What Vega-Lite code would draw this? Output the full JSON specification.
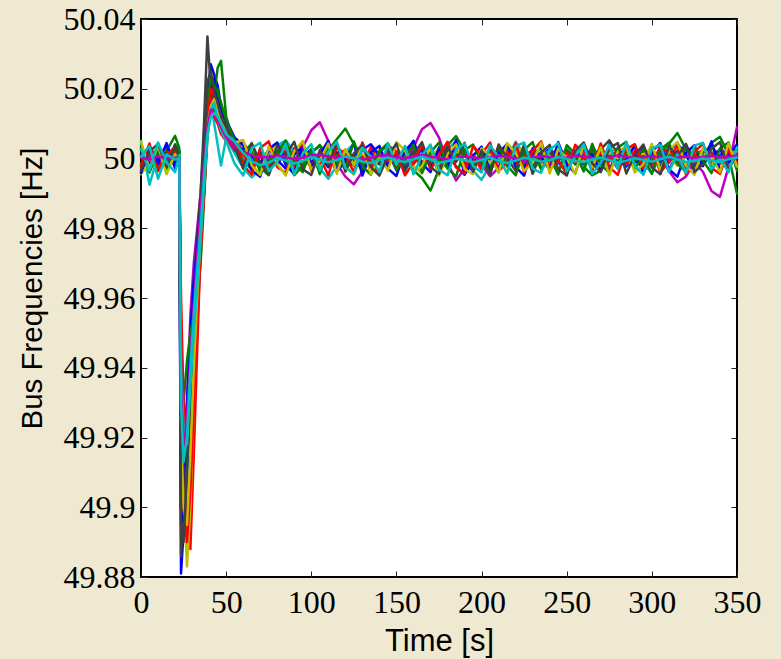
{
"$schema": "https://vega.github.io/schema/vega-lite/v6.json",
"width": 596, "height": 558,
"autosize": {"type": "none"},
"padding": {"left": 141, "top": 19, "right": 44, "bottom": 82},
"background": "#efe9d1",
"config": {
  "view": {"fill": "white", "stroke": "black", "strokeWidth": 2},
  "axis": {"grid": false, "domain": false, "tickColor": "#222", "tickWidth": 1, "tickSize": -6,
    "labelFont": "Liberation Serif", "labelFontSize": 32, "labelColor": "black",
    "titleFont": "Liberation Sans", "titleFontWeight": "normal", "titleColor": "black",
    "labelFlush": false, "labelOverlap": false, "labelBound": false}
},
"data": {"values": [
{"s":"a","t":0,"f":50.0012},{"s":"a","t":5,"f":49.998},{"s":"a","t":10,"f":50.0025},{"s":"a","t":15,"f":49.9992},{"s":"a","t":20,"f":50.003},
{"s":"a","t":22.5,"f":50.001},{"s":"a","t":23.5,"f":49.881},{"s":"a","t":25,"f":49.893},{"s":"a","t":27,"f":49.91},{"s":"a","t":29,"f":49.93},{"s":"a","t":31,"f":49.948},{"s":"a","t":33,"f":49.965},{"s":"a","t":35,"f":49.985},{"s":"a","t":37,"f":50.002},{"s":"a","t":39,"f":50.018},{"s":"a","t":41,"f":50.027},{"s":"a","t":43,"f":50.024},{"s":"a","t":45,"f":50.021},{"s":"a","t":47,"f":50.015},{"s":"a","t":50,"f":50.01},
{"s":"a","t":55,"f":50.0052},{"s":"a","t":60,"f":50.0018},{"s":"a","t":65,"f":49.9994},{"s":"a","t":70,"f":49.9976},{"s":"a","t":75,"f":50.0011},{"s":"a","t":80,"f":49.9983},{"s":"a","t":85,"f":50.0023},{"s":"a","t":90,"f":49.9969},{"s":"a","t":95,"f":50.0008},{"s":"a","t":100,"f":50.0026},{"s":"a","t":105,"f":49.9986},{"s":"a","t":110,"f":50.0033},{"s":"a","t":115,"f":49.9972},{"s":"a","t":120,"f":50.0004},{"s":"a","t":125,"f":50.0042},{"s":"a","t":130,"f":49.9981},{"s":"a","t":135,"f":50.0015},{"s":"a","t":140,"f":49.9993},{"s":"a","t":145,"f":50.0021},{"s":"a","t":150,"f":49.9966},{"s":"a","t":155,"f":50.0009},{"s":"a","t":160,"f":50.0051},{"s":"a","t":165,"f":49.9978},{"s":"a","t":170,"f":50.0013},{"s":"a","t":175,"f":49.9959},{"s":"a","t":180,"f":50.0006},{"s":"a","t":185,"f":50.0024},{"s":"a","t":190,"f":49.9989},{"s":"a","t":195,"f":49.9964},{"s":"a","t":200,"f":50.0017},{"s":"a","t":205,"f":50.0003},{"s":"a","t":210,"f":49.9975},{"s":"a","t":215,"f":50.0031},{"s":"a","t":220,"f":49.9991},{"s":"a","t":225,"f":50.0016},{"s":"a","t":230,"f":49.998},{"s":"a","t":235,"f":50.0007},{"s":"a","t":240,"f":50.0028},{"s":"a","t":245,"f":49.9987},{"s":"a","t":250,"f":49.997},{"s":"a","t":255,"f":50.0012},{"s":"a","t":260,"f":50.0005},{"s":"a","t":265,"f":49.9974},{"s":"a","t":270,"f":50.0022},{"s":"a","t":275,"f":49.9996},{"s":"a","t":280,"f":50.0019},{"s":"a","t":285,"f":49.9977},{"s":"a","t":290,"f":50.0008},{"s":"a","t":295,"f":50.0035},{"s":"a","t":300,"f":49.9984},{"s":"a","t":305,"f":50.0002},{"s":"a","t":310,"f":49.9967},{"s":"a","t":315,"f":50.0014},{"s":"a","t":320,"f":50.004},{"s":"a","t":325,"f":49.9992},{"s":"a","t":330,"f":50.0021},{"s":"a","t":335,"f":49.9985},{"s":"a","t":340,"f":50.0009},{"s":"a","t":345,"f":50.0026},{"s":"a","t":350,"f":49.9997},
{"s":"b","t":0,"f":49.997},{"s":"b","t":5,"f":50.0018},{"s":"b","t":10,"f":49.9988},{"s":"b","t":15,"f":50.0022},{"s":"b","t":20,"f":50.0065},
{"s":"b","t":22.5,"f":50.003},{"s":"b","t":23.5,"f":49.93},{"s":"b","t":25,"f":49.905},{"s":"b","t":27,"f":49.915},{"s":"b","t":29,"f":49.935},{"s":"b","t":31,"f":49.952},{"s":"b","t":33,"f":49.968},{"s":"b","t":35,"f":49.982},{"s":"b","t":37,"f":49.998},{"s":"b","t":39,"f":50.012},{"s":"b","t":41,"f":50.022},{"s":"b","t":43,"f":50.018},{"s":"b","t":45,"f":50.026},{"s":"b","t":47,"f":50.028},{"s":"b","t":50,"f":50.012},
{"s":"b","t":55,"f":50.0038},{"s":"b","t":60,"f":49.9995},{"s":"b","t":65,"f":49.9968},{"s":"b","t":70,"f":50.0014},{"s":"b","t":75,"f":49.9974},{"s":"b","t":80,"f":50.002},{"s":"b","t":85,"f":49.9988},{"s":"b","t":90,"f":50.003},{"s":"b","t":95,"f":49.9973},{"s":"b","t":100,"f":50.0006},{"s":"b","t":105,"f":49.9982},{"s":"b","t":110,"f":50.0024},{"s":"b","t":115,"f":50.0055},{"s":"b","t":120,"f":50.0086},{"s":"b","t":125,"f":50.0041},{"s":"b","t":130,"f":49.9977},{"s":"b","t":135,"f":50.001},{"s":"b","t":140,"f":49.9985},{"s":"b","t":145,"f":50.0027},{"s":"b","t":150,"f":49.9991},{"s":"b","t":155,"f":50.0018},{"s":"b","t":160,"f":49.9966},{"s":"b","t":165,"f":49.9944},{"s":"b","t":170,"f":49.9908},{"s":"b","t":175,"f":49.997},{"s":"b","t":180,"f":50.0038},{"s":"b","t":185,"f":50.0064},{"s":"b","t":190,"f":50.0022},{"s":"b","t":195,"f":49.9986},{"s":"b","t":200,"f":50.0008},{"s":"b","t":205,"f":49.9978},{"s":"b","t":210,"f":50.0017},{"s":"b","t":215,"f":49.9994},{"s":"b","t":220,"f":50.0029},{"s":"b","t":225,"f":49.9983},{"s":"b","t":230,"f":50.0005},{"s":"b","t":235,"f":49.9972},{"s":"b","t":240,"f":50.0013},{"s":"b","t":245,"f":50.0025},{"s":"b","t":250,"f":49.999},{"s":"b","t":255,"f":50.0007},{"s":"b","t":260,"f":49.9976},{"s":"b","t":265,"f":49.9952},{"s":"b","t":270,"f":49.9965},{"s":"b","t":275,"f":50.0012},{"s":"b","t":280,"f":49.9992},{"s":"b","t":285,"f":50.002},{"s":"b","t":290,"f":49.9987},{"s":"b","t":295,"f":50.0009},{"s":"b","t":300,"f":49.9978},{"s":"b","t":305,"f":50.0015},{"s":"b","t":310,"f":50.0042},{"s":"b","t":315,"f":50.0073},{"s":"b","t":320,"f":50.0026},{"s":"b","t":325,"f":49.9982},{"s":"b","t":330,"f":50.0004},{"s":"b","t":335,"f":50.0045},{"s":"b","t":340,"f":50.0062},{"s":"b","t":345,"f":50.0011},{"s":"b","t":350,"f":49.9899},
{"s":"c","t":0,"f":50.0024},{"s":"c","t":5,"f":50.0006},{"s":"c","t":10,"f":49.9978},{"s":"c","t":15,"f":50.0019},{"s":"c","t":20,"f":49.9995},
{"s":"c","t":22.5,"f":49.999},{"s":"c","t":23.5,"f":49.95},{"s":"c","t":25,"f":49.91},{"s":"c","t":27,"f":49.893},{"s":"c","t":29,"f":49.888},{"s":"c","t":31,"f":49.915},{"s":"c","t":33,"f":49.945},{"s":"c","t":35,"f":49.975},{"s":"c","t":37,"f":50.0},{"s":"c","t":39,"f":50.016},{"s":"c","t":41,"f":50.022},{"s":"c","t":43,"f":50.015},{"s":"c","t":45,"f":50.018},{"s":"c","t":47,"f":50.01},{"s":"c","t":50,"f":50.008},
{"s":"c","t":55,"f":50.0045},{"s":"c","t":60,"f":50.0026},{"s":"c","t":65,"f":49.998},{"s":"c","t":70,"f":50.0008},{"s":"c","t":75,"f":49.9964},{"s":"c","t":80,"f":50.0019},{"s":"c","t":85,"f":49.999},{"s":"c","t":90,"f":49.9976},{"s":"c","t":95,"f":50.0028},{"s":"c","t":100,"f":50.0003},{"s":"c","t":105,"f":49.9984},{"s":"c","t":110,"f":50.0012},{"s":"c","t":115,"f":49.9961},{"s":"c","t":120,"f":50.0023},{"s":"c","t":125,"f":50.0005},{"s":"c","t":130,"f":49.9982},{"s":"c","t":135,"f":50.0032},{"s":"c","t":140,"f":49.9994},{"s":"c","t":145,"f":50.0014},{"s":"c","t":150,"f":49.9975},{"s":"c","t":155,"f":50.0009},{"s":"c","t":160,"f":50.0027},{"s":"c","t":165,"f":49.9988},{"s":"c","t":170,"f":50.0015},{"s":"c","t":175,"f":49.9972},{"s":"c","t":180,"f":50.0004},{"s":"c","t":185,"f":50.0036},{"s":"c","t":190,"f":49.9981},{"s":"c","t":195,"f":50.0008},{"s":"c","t":200,"f":49.9967},{"s":"c","t":205,"f":50.002},{"s":"c","t":210,"f":50.0011},{"s":"c","t":215,"f":49.9986},{"s":"c","t":220,"f":50.0034},{"s":"c","t":225,"f":49.9993},{"s":"c","t":230,"f":50.0018},{"s":"c","t":235,"f":49.9979},{"s":"c","t":240,"f":50.0006},{"s":"c","t":245,"f":50.0029},{"s":"c","t":250,"f":49.9985},{"s":"c","t":255,"f":50.0001},{"s":"c","t":260,"f":50.0023},{"s":"c","t":265,"f":49.9973},{"s":"c","t":270,"f":50.001},{"s":"c","t":275,"f":49.9991},{"s":"c","t":280,"f":50.0031},{"s":"c","t":285,"f":49.9983},{"s":"c","t":290,"f":50.0007},{"s":"c","t":295,"f":50.0024},{"s":"c","t":300,"f":49.998},{"s":"c","t":305,"f":50.0037},{"s":"c","t":310,"f":49.9996},{"s":"c","t":315,"f":50.0016},{"s":"c","t":320,"f":49.9971},{"s":"c","t":325,"f":50.0008},{"s":"c","t":330,"f":50.0025},{"s":"c","t":335,"f":49.9987},{"s":"c","t":340,"f":50.0002},{"s":"c","t":345,"f":50.003},{"s":"c","t":350,"f":49.9989},
{"s":"d","t":0,"f":50.005},{"s":"d","t":5,"f":49.9925},{"s":"d","t":10,"f":50.0009},{"s":"d","t":15,"f":49.9974},{"s":"d","t":20,"f":50.0014},
{"s":"d","t":22.5,"f":50.002},{"s":"d","t":23.5,"f":49.925},{"s":"d","t":25,"f":49.911},{"s":"d","t":27,"f":49.925},{"s":"d","t":29,"f":49.945},{"s":"d","t":31,"f":49.958},{"s":"d","t":33,"f":49.968},{"s":"d","t":35,"f":49.975},{"s":"d","t":37,"f":49.99},{"s":"d","t":39,"f":50.008},{"s":"d","t":41,"f":50.016},{"s":"d","t":43,"f":50.01},{"s":"d","t":45,"f":50.004},{"s":"d","t":47,"f":49.998},{"s":"d","t":50,"f":50.006},
{"s":"d","t":55,"f":50.0015},{"s":"d","t":60,"f":49.9973},{"s":"d","t":65,"f":49.9946},{"s":"d","t":70,"f":49.9969},{"s":"d","t":75,"f":49.9992},{"s":"d","t":80,"f":50.0037},{"s":"d","t":85,"f":50.0052},{"s":"d","t":90,"f":50.0019},{"s":"d","t":95,"f":49.9984},{"s":"d","t":100,"f":50.0007},{"s":"d","t":105,"f":49.9971},{"s":"d","t":110,"f":49.9942},{"s":"d","t":115,"f":49.9979},{"s":"d","t":120,"f":50.0018},{"s":"d","t":125,"f":50.0043},{"s":"d","t":130,"f":50.0006},{"s":"d","t":135,"f":49.9981},{"s":"d","t":140,"f":50.0025},{"s":"d","t":145,"f":49.9996},{"s":"d","t":150,"f":50.0016},{"s":"d","t":155,"f":49.9972},{"s":"d","t":160,"f":50.0009},{"s":"d","t":165,"f":50.0021},{"s":"d","t":170,"f":49.9987},{"s":"d","t":175,"f":50.0005},{"s":"d","t":180,"f":50.0028},{"s":"d","t":185,"f":50.0049},{"s":"d","t":190,"f":50.0012},{"s":"d","t":195,"f":49.9965},{"s":"d","t":200,"f":49.9939},{"s":"d","t":205,"f":49.9982},{"s":"d","t":210,"f":50.0014},{"s":"d","t":215,"f":49.9995},{"s":"d","t":220,"f":50.0048},{"s":"d","t":225,"f":50.001},{"s":"d","t":230,"f":49.9974},{"s":"d","t":235,"f":50.0008},{"s":"d","t":240,"f":50.0022},{"s":"d","t":245,"f":49.9989},{"s":"d","t":250,"f":50.0033},{"s":"d","t":255,"f":50.0004},{"s":"d","t":260,"f":49.998},{"s":"d","t":265,"f":50.0017},{"s":"d","t":270,"f":49.9997},{"s":"d","t":275,"f":50.0026},{"s":"d","t":280,"f":49.9982},{"s":"d","t":285,"f":50.0006},{"s":"d","t":290,"f":50.0039},{"s":"d","t":295,"f":49.9986},{"s":"d","t":300,"f":49.9958},{"s":"d","t":305,"f":50.0009},{"s":"d","t":310,"f":50.0028},{"s":"d","t":315,"f":49.9993},{"s":"d","t":320,"f":50.0015},{"s":"d","t":325,"f":49.9976},{"s":"d","t":330,"f":50.0003},{"s":"d","t":335,"f":50.002},{"s":"d","t":340,"f":49.9984},{"s":"d","t":345,"f":50.0008},{"s":"d","t":350,"f":50.0019},
{"s":"e","t":0,"f":49.9962},{"s":"e","t":5,"f":50.0005},{"s":"e","t":10,"f":50.0028},{"s":"e","t":15,"f":49.9984},{"s":"e","t":20,"f":50.0007},
{"s":"e","t":22.5,"f":50.0},{"s":"e","t":23.5,"f":49.94},{"s":"e","t":25,"f":49.918},{"s":"e","t":27,"f":49.93},{"s":"e","t":29,"f":49.955},{"s":"e","t":31,"f":49.97},{"s":"e","t":33,"f":49.98},{"s":"e","t":35,"f":49.99},{"s":"e","t":37,"f":50.005},{"s":"e","t":39,"f":50.015},{"s":"e","t":41,"f":50.018},{"s":"e","t":43,"f":50.014},{"s":"e","t":45,"f":50.012},{"s":"e","t":47,"f":50.009},{"s":"e","t":50,"f":50.006},
{"s":"e","t":55,"f":50.0022},{"s":"e","t":60,"f":50.0046},{"s":"e","t":65,"f":50.001},{"s":"e","t":70,"f":49.9972},{"s":"e","t":75,"f":50.0004},{"s":"e","t":80,"f":49.9981},{"s":"e","t":85,"f":50.0025},{"s":"e","t":90,"f":49.9994},{"s":"e","t":95,"f":50.0032},{"s":"e","t":100,"f":50.0081},{"s":"e","t":105,"f":50.0104},{"s":"e","t":110,"f":50.005},{"s":"e","t":115,"f":49.9985},{"s":"e","t":120,"f":49.9948},{"s":"e","t":125,"f":49.9926},{"s":"e","t":130,"f":49.9962},{"s":"e","t":135,"f":50.0009},{"s":"e","t":140,"f":49.9986},{"s":"e","t":145,"f":50.002},{"s":"e","t":150,"f":50.0002},{"s":"e","t":155,"f":49.9974},{"s":"e","t":160,"f":50.0031},{"s":"e","t":165,"f":50.0084},{"s":"e","t":170,"f":50.0102},{"s":"e","t":175,"f":50.006},{"s":"e","t":180,"f":49.9988},{"s":"e","t":185,"f":49.9937},{"s":"e","t":190,"f":49.9971},{"s":"e","t":195,"f":50.0011},{"s":"e","t":200,"f":49.9982},{"s":"e","t":205,"f":49.9949},{"s":"e","t":210,"f":49.9973},{"s":"e","t":215,"f":50.0008},{"s":"e","t":220,"f":50.0024},{"s":"e","t":225,"f":49.9991},{"s":"e","t":230,"f":50.0016},{"s":"e","t":235,"f":49.9983},{"s":"e","t":240,"f":50.0005},{"s":"e","t":245,"f":50.003},{"s":"e","t":250,"f":49.9979},{"s":"e","t":255,"f":50.0013},{"s":"e","t":260,"f":49.9996},{"s":"e","t":265,"f":50.0027},{"s":"e","t":270,"f":49.9985},{"s":"e","t":275,"f":50.0006},{"s":"e","t":280,"f":49.9971},{"s":"e","t":285,"f":50.0018},{"s":"e","t":290,"f":50.0001},{"s":"e","t":295,"f":50.0023},{"s":"e","t":300,"f":49.999},{"s":"e","t":305,"f":50.0008},{"s":"e","t":310,"f":49.9964},{"s":"e","t":315,"f":49.9932},{"s":"e","t":320,"f":49.9948},{"s":"e","t":325,"f":49.9989},{"s":"e","t":330,"f":49.9962},{"s":"e","t":335,"f":49.9907},{"s":"e","t":340,"f":49.989},{"s":"e","t":345,"f":49.9975},{"s":"e","t":350,"f":50.009},
{"s":"f","t":0,"f":49.9955},{"s":"f","t":5,"f":49.999},{"s":"f","t":10,"f":50.0016},{"s":"f","t":15,"f":49.9968},{"s":"f","t":20,"f":50.0021},
{"s":"f","t":22.5,"f":49.998},{"s":"f","t":23.5,"f":49.955},{"s":"f","t":25,"f":49.905},{"s":"f","t":27,"f":49.883},{"s":"f","t":29,"f":49.9},{"s":"f","t":31,"f":49.93},{"s":"f","t":33,"f":49.955},{"s":"f","t":35,"f":49.975},{"s":"f","t":37,"f":49.995},{"s":"f","t":39,"f":50.013},{"s":"f","t":41,"f":50.016},{"s":"f","t":43,"f":50.012},{"s":"f","t":45,"f":50.014},{"s":"f","t":47,"f":50.009},{"s":"f","t":50,"f":50.007},
{"s":"f","t":55,"f":50.0061},{"s":"f","t":60,"f":50.0035},{"s":"f","t":65,"f":49.9982},{"s":"f","t":70,"f":49.9956},{"s":"f","t":75,"f":50.0016},{"s":"f","t":80,"f":50.0042},{"s":"f","t":85,"f":50.002},{"s":"f","t":90,"f":49.9961},{"s":"f","t":95,"f":49.9988},{"s":"f","t":100,"f":50.0015},{"s":"f","t":105,"f":49.9975},{"s":"f","t":110,"f":50.0009},{"s":"f","t":115,"f":50.0038},{"s":"f","t":120,"f":49.998},{"s":"f","t":125,"f":49.9954},{"s":"f","t":130,"f":50.0011},{"s":"f","t":135,"f":49.9993},{"s":"f","t":140,"f":50.0024},{"s":"f","t":145,"f":49.9982},{"s":"f","t":150,"f":50.0006},{"s":"f","t":155,"f":50.003},{"s":"f","t":160,"f":49.9978},{"s":"f","t":165,"f":49.9957},{"s":"f","t":170,"f":50.001},{"s":"f","t":175,"f":50.0026},{"s":"f","t":180,"f":49.9992},{"s":"f","t":185,"f":50.0019},{"s":"f","t":190,"f":49.9964},{"s":"f","t":195,"f":50.0007},{"s":"f","t":200,"f":50.0028},{"s":"f","t":205,"f":49.9987},{"s":"f","t":210,"f":50.0004},{"s":"f","t":215,"f":49.9974},{"s":"f","t":220,"f":50.0018},{"s":"f","t":225,"f":50.0032},{"s":"f","t":230,"f":49.9995},{"s":"f","t":235,"f":49.998},{"s":"f","t":240,"f":50.0012},{"s":"f","t":245,"f":49.9966},{"s":"f","t":250,"f":50.0009},{"s":"f","t":255,"f":50.0023},{"s":"f","t":260,"f":49.9989},{"s":"f","t":265,"f":50.0005},{"s":"f","t":270,"f":49.9972},{"s":"f","t":275,"f":50.0014},{"s":"f","t":280,"f":50.0029},{"s":"f","t":285,"f":49.9994},{"s":"f","t":290,"f":49.9977},{"s":"f","t":295,"f":50.001},{"s":"f","t":300,"f":50.0031},{"s":"f","t":305,"f":49.9986},{"s":"f","t":310,"f":50.0006},{"s":"f","t":315,"f":49.9979},{"s":"f","t":320,"f":50.0017},{"s":"f","t":325,"f":49.9997},{"s":"f","t":330,"f":50.0022},{"s":"f","t":335,"f":49.9981},{"s":"f","t":340,"f":50.0007},{"s":"f","t":345,"f":49.9974},{"s":"f","t":350,"f":50.0013},
{"s":"g","t":0,"f":50.0008},{"s":"g","t":5,"f":50.0034},{"s":"g","t":10,"f":49.9995},{"s":"g","t":15,"f":50.0017},{"s":"g","t":20,"f":49.9986},
{"s":"g","t":22.5,"f":50.001},{"s":"g","t":23.5,"f":49.886},{"s":"g","t":25,"f":49.9},{"s":"g","t":27,"f":49.925},{"s":"g","t":29,"f":49.95},{"s":"g","t":31,"f":49.965},{"s":"g","t":33,"f":49.978},{"s":"g","t":35,"f":49.99},{"s":"g","t":37,"f":50.01},{"s":"g","t":39,"f":50.035},{"s":"g","t":41,"f":50.02},{"s":"g","t":43,"f":50.017},{"s":"g","t":45,"f":50.013},{"s":"g","t":47,"f":50.01},{"s":"g","t":50,"f":50.008},
{"s":"g","t":55,"f":50.003},{"s":"g","t":60,"f":50.0012},{"s":"g","t":65,"f":49.9984},{"s":"g","t":70,"f":50.0021},{"s":"g","t":75,"f":49.9991},{"s":"g","t":80,"f":50.0015},{"s":"g","t":85,"f":50.0034},{"s":"g","t":90,"f":50.0002},{"s":"g","t":95,"f":49.998},{"s":"g","t":100,"f":50.0018},{"s":"g","t":105,"f":50.0036},{"s":"g","t":110,"f":49.9996},{"s":"g","t":115,"f":50.0012},{"s":"g","t":120,"f":49.9976},{"s":"g","t":125,"f":50.0007},{"s":"g","t":130,"f":50.0029},{"s":"g","t":135,"f":50.0001},{"s":"g","t":140,"f":49.9983},{"s":"g","t":145,"f":50.0022},{"s":"g","t":150,"f":50.001},{"s":"g","t":155,"f":49.9992},{"s":"g","t":160,"f":50.0019},{"s":"g","t":165,"f":49.9975},{"s":"g","t":170,"f":50.0003},{"s":"g","t":175,"f":50.0017},{"s":"g","t":180,"f":50.003},{"s":"g","t":185,"f":49.9994},{"s":"g","t":190,"f":50.0014},{"s":"g","t":195,"f":49.9981},{"s":"g","t":200,"f":50.0006},{"s":"g","t":205,"f":50.0025},{"s":"g","t":210,"f":49.999},{"s":"g","t":215,"f":50.0013},{"s":"g","t":220,"f":49.9998},{"s":"g","t":225,"f":50.002},{"s":"g","t":230,"f":49.9977},{"s":"g","t":235,"f":50.0009},{"s":"g","t":240,"f":50.0016},{"s":"g","t":245,"f":49.9995},{"s":"g","t":250,"f":50.0024},{"s":"g","t":255,"f":50.0003},{"s":"g","t":260,"f":49.9984},{"s":"g","t":265,"f":50.0011},{"s":"g","t":270,"f":50.0026},{"s":"g","t":275,"f":50.0052},{"s":"g","t":280,"f":50.0014},{"s":"g","t":285,"f":49.9993},{"s":"g","t":290,"f":50.002},{"s":"g","t":295,"f":49.9982},{"s":"g","t":300,"f":50.0005},{"s":"g","t":305,"f":50.0017},{"s":"g","t":310,"f":49.9988},{"s":"g","t":315,"f":50.0023},{"s":"g","t":320,"f":50.0006},{"s":"g","t":325,"f":49.9978},{"s":"g","t":330,"f":50.0018},{"s":"g","t":335,"f":50.0035},{"s":"g","t":340,"f":50.0004},{"s":"g","t":345,"f":50.0019},{"s":"g","t":350,"f":50.0028},
{"s":"h","t":0,"f":50.0029},{"s":"h","t":5,"f":49.9985},{"s":"h","t":10,"f":50.0003},{"s":"h","t":15,"f":50.0036},{"s":"h","t":20,"f":49.9991},
{"s":"h","t":22.5,"f":49.999},{"s":"h","t":23.5,"f":49.92},{"s":"h","t":25,"f":49.912},{"s":"h","t":27,"f":49.93},{"s":"h","t":29,"f":49.95},{"s":"h","t":31,"f":49.965},{"s":"h","t":33,"f":49.975},{"s":"h","t":35,"f":49.985},{"s":"h","t":37,"f":49.998},{"s":"h","t":39,"f":50.01},{"s":"h","t":41,"f":50.02},{"s":"h","t":43,"f":50.022},{"s":"h","t":45,"f":50.016},{"s":"h","t":47,"f":50.012},{"s":"h","t":50,"f":50.01},
{"s":"h","t":55,"f":50.004},{"s":"h","t":60,"f":50.0024},{"s":"h","t":65,"f":50.0005},{"s":"h","t":70,"f":49.9987},{"s":"h","t":75,"f":50.0026},{"s":"h","t":80,"f":49.9996},{"s":"h","t":85,"f":49.9971},{"s":"h","t":90,"f":50.0012},{"s":"h","t":95,"f":50.0034},{"s":"h","t":100,"f":49.9989},{"s":"h","t":105,"f":50.0006},{"s":"h","t":110,"f":49.9975},{"s":"h","t":115,"f":50.0018},{"s":"h","t":120,"f":49.9997},{"s":"h","t":125,"f":49.998},{"s":"h","t":130,"f":50.0025},{"s":"h","t":135,"f":50.0041},{"s":"h","t":140,"f":50.0008},{"s":"h","t":145,"f":49.9984},{"s":"h","t":150,"f":50.0013},{"s":"h","t":155,"f":49.997},{"s":"h","t":160,"f":50.0002},{"s":"h","t":165,"f":50.0026},{"s":"h","t":170,"f":49.9981},{"s":"h","t":175,"f":49.9994},{"s":"h","t":180,"f":50.0019},{"s":"h","t":185,"f":49.9977},{"s":"h","t":190,"f":49.9954},{"s":"h","t":195,"f":49.9991},{"s":"h","t":200,"f":50.0015},{"s":"h","t":205,"f":49.9998},{"s":"h","t":210,"f":50.0027},{"s":"h","t":215,"f":49.9982},{"s":"h","t":220,"f":50.0009},{"s":"h","t":225,"f":49.9973},{"s":"h","t":230,"f":50.0013},{"s":"h","t":235,"f":50.003},{"s":"h","t":240,"f":49.9992},{"s":"h","t":245,"f":50.0016},{"s":"h","t":250,"f":49.9978},{"s":"h","t":255,"f":50.0004},{"s":"h","t":260,"f":50.0021},{"s":"h","t":265,"f":49.9986},{"s":"h","t":270,"f":50.0008},{"s":"h","t":275,"f":49.9971},{"s":"h","t":280,"f":50.001},{"s":"h","t":285,"f":50.0028},{"s":"h","t":290,"f":49.9995},{"s":"h","t":295,"f":49.9976},{"s":"h","t":300,"f":50.0016},{"s":"h","t":305,"f":49.9991},{"s":"h","t":310,"f":50.0023},{"s":"h","t":315,"f":50.0043},{"s":"h","t":320,"f":50.0011},{"s":"h","t":325,"f":49.9966},{"s":"h","t":330,"f":49.9988},{"s":"h","t":335,"f":50.0007},{"s":"h","t":340,"f":50.0025},{"s":"h","t":345,"f":49.999},{"s":"h","t":350,"f":50.0004},
{"s":"i","t":0,"f":49.9984},{"s":"i","t":5,"f":50.0027},{"s":"i","t":10,"f":49.997},{"s":"i","t":15,"f":50.0002},{"s":"i","t":20,"f":50.0025},
{"s":"i","t":22.5,"f":50.002},{"s":"i","t":23.5,"f":49.935},{"s":"i","t":25,"f":49.93},{"s":"i","t":27,"f":49.942},{"s":"i","t":29,"f":49.95},{"s":"i","t":31,"f":49.955},{"s":"i","t":33,"f":49.96},{"s":"i","t":35,"f":49.97},{"s":"i","t":37,"f":49.988},{"s":"i","t":39,"f":50.006},{"s":"i","t":41,"f":50.016},{"s":"i","t":43,"f":50.012},{"s":"i","t":45,"f":50.02},{"s":"i","t":47,"f":50.013},{"s":"i","t":50,"f":50.008},
{"s":"i","t":55,"f":50.0028},{"s":"i","t":60,"f":49.9986},{"s":"i","t":65,"f":50.0019},{"s":"i","t":70,"f":49.9964},{"s":"i","t":75,"f":49.999},{"s":"i","t":80,"f":50.0022},{"s":"i","t":85,"f":49.9997},{"s":"i","t":90,"f":49.9952},{"s":"i","t":95,"f":49.9979},{"s":"i","t":100,"f":50.0014},{"s":"i","t":105,"f":50.0039},{"s":"i","t":110,"f":50.0008},{"s":"i","t":115,"f":49.9983},{"s":"i","t":120,"f":50.002},{"s":"i","t":125,"f":49.9995},{"s":"i","t":130,"f":49.9969},{"s":"i","t":135,"f":49.999},{"s":"i","t":140,"f":50.0017},{"s":"i","t":145,"f":50.004},{"s":"i","t":150,"f":50.0012},{"s":"i","t":155,"f":49.9985},{"s":"i","t":160,"f":50.0007},{"s":"i","t":165,"f":49.998},{"s":"i","t":170,"f":50.0016},{"s":"i","t":175,"f":49.9996},{"s":"i","t":180,"f":49.9973},{"s":"i","t":185,"f":50.0009},{"s":"i","t":190,"f":50.0023},{"s":"i","t":195,"f":49.9988},{"s":"i","t":200,"f":50.0003},{"s":"i","t":205,"f":49.9974},{"s":"i","t":210,"f":50.0019},{"s":"i","t":215,"f":50.0033},{"s":"i","t":220,"f":49.9993},{"s":"i","t":225,"f":50.0012},{"s":"i","t":230,"f":49.9984},{"s":"i","t":235,"f":50.002},{"s":"i","t":240,"f":49.997},{"s":"i","t":245,"f":50.0002},{"s":"i","t":250,"f":50.0018},{"s":"i","t":255,"f":49.9983},{"s":"i","t":260,"f":50.0006},{"s":"i","t":265,"f":50.0024},{"s":"i","t":270,"f":49.999},{"s":"i","t":275,"f":50.0008},{"s":"i","t":280,"f":49.9976},{"s":"i","t":285,"f":50.0015},{"s":"i","t":290,"f":49.9991},{"s":"i","t":295,"f":50.0026},{"s":"i","t":300,"f":50.0001},{"s":"i","t":305,"f":49.998},{"s":"i","t":310,"f":50.0012},{"s":"i","t":315,"f":49.9986},{"s":"i","t":320,"f":50.0032},{"s":"i","t":325,"f":50.0005},{"s":"i","t":330,"f":49.9981},{"s":"i","t":335,"f":50.0013},{"s":"i","t":340,"f":49.9998},{"s":"i","t":345,"f":50.0021},{"s":"i","t":350,"f":49.9984},
{"s":"j","t":0,"f":50.0004},{"s":"j","t":5,"f":49.9976},{"s":"j","t":10,"f":50.0015},{"s":"j","t":15,"f":49.9993},{"s":"j","t":20,"f":50.0019},
{"s":"j","t":22.5,"f":50.0},{"s":"j","t":23.5,"f":49.96},{"s":"j","t":25,"f":49.93},{"s":"j","t":27,"f":49.918},{"s":"j","t":29,"f":49.925},{"s":"j","t":31,"f":49.94},{"s":"j","t":33,"f":49.958},{"s":"j","t":35,"f":49.975},{"s":"j","t":37,"f":49.99},{"s":"j","t":39,"f":50.008},{"s":"j","t":41,"f":50.015},{"s":"j","t":43,"f":50.012},{"s":"j","t":45,"f":50.01},{"s":"j","t":47,"f":50.007},{"s":"j","t":50,"f":50.005},
{"s":"j","t":55,"f":50.0033},{"s":"j","t":60,"f":50.0009},{"s":"j","t":65,"f":49.9976},{"s":"j","t":70,"f":50.001},{"s":"j","t":75,"f":49.9985},{"s":"j","t":80,"f":50.0006},{"s":"j","t":85,"f":50.0021},{"s":"j","t":90,"f":49.9989},{"s":"j","t":95,"f":50.0004},{"s":"j","t":100,"f":49.9977},{"s":"j","t":105,"f":50.0017},{"s":"j","t":110,"f":49.9992},{"s":"j","t":115,"f":50.0009},{"s":"j","t":120,"f":50.0024},{"s":"j","t":125,"f":49.9987},{"s":"j","t":130,"f":50.0005},{"s":"j","t":135,"f":49.9978},{"s":"j","t":140,"f":50.0011},{"s":"j","t":145,"f":49.9994},{"s":"j","t":150,"f":50.002},{"s":"j","t":155,"f":50.0002},{"s":"j","t":160,"f":49.9984},{"s":"j","t":165,"f":50.0013},{"s":"j","t":170,"f":49.9991},{"s":"j","t":175,"f":50.0022},{"s":"j","t":180,"f":49.9983},{"s":"j","t":185,"f":50.0004},{"s":"j","t":190,"f":50.0018},{"s":"j","t":195,"f":49.9995},{"s":"j","t":200,"f":49.998},{"s":"j","t":205,"f":50.001},{"s":"j","t":210,"f":49.9997},{"s":"j","t":215,"f":50.0021},{"s":"j","t":220,"f":49.9986},{"s":"j","t":225,"f":50.0006},{"s":"j","t":230,"f":50.0025},{"s":"j","t":235,"f":49.9992},{"s":"j","t":240,"f":49.9981},{"s":"j","t":245,"f":50.0009},{"s":"j","t":250,"f":50.0015},{"s":"j","t":255,"f":49.9988},{"s":"j","t":260,"f":50.0003},{"s":"j","t":265,"f":49.9979},{"s":"j","t":270,"f":50.0017},{"s":"j","t":275,"f":49.9996},{"s":"j","t":280,"f":50.0008},{"s":"j","t":285,"f":49.9982},{"s":"j","t":290,"f":50.0022},{"s":"j","t":295,"f":50.0},{"s":"j","t":300,"f":49.9987},{"s":"j","t":305,"f":50.0019},{"s":"j","t":310,"f":50.0026},{"s":"j","t":315,"f":49.9994},{"s":"j","t":320,"f":49.9976},{"s":"j","t":325,"f":50.0012},{"s":"j","t":330,"f":49.9999},{"s":"j","t":335,"f":50.0016},{"s":"j","t":340,"f":49.9985},{"s":"j","t":345,"f":50.0007},{"s":"j","t":350,"f":50.001},
{"s":"m","t":0,"f":49.9958},{"s":"m","t":5,"f":50.0031},{"s":"m","t":10,"f":49.9985},{"s":"m","t":15,"f":50.0044},{"s":"m","t":20,"f":49.9972},
{"s":"m","t":22.5,"f":50.0},{"s":"m","t":23.5,"f":49.9},{"s":"m","t":25,"f":49.896},{"s":"m","t":27,"f":49.918},{"s":"m","t":29,"f":49.94},{"s":"m","t":31,"f":49.957},{"s":"m","t":33,"f":49.972},{"s":"m","t":35,"f":49.983},{"s":"m","t":37,"f":49.996},{"s":"m","t":39,"f":50.012},{"s":"m","t":41,"f":50.019},{"s":"m","t":43,"f":50.023},{"s":"m","t":45,"f":50.018},{"s":"m","t":47,"f":50.013},{"s":"m","t":50,"f":50.011},
{"s":"m","t":55,"f":50.006},{"s":"m","t":60,"f":50.0038},{"s":"m","t":65,"f":49.9965},{"s":"m","t":70,"f":49.9948},{"s":"m","t":75,"f":50.0027},{"s":"m","t":80,"f":50.0046},{"s":"m","t":85,"f":49.9981},{"s":"m","t":90,"f":49.9956},{"s":"m","t":95,"f":50.0039},{"s":"m","t":100,"f":49.9975},{"s":"m","t":105,"f":50.0012},{"s":"m","t":110,"f":50.0051},{"s":"m","t":115,"f":49.9963},{"s":"m","t":120,"f":49.9991},{"s":"m","t":125,"f":50.0045},{"s":"m","t":130,"f":49.9951},{"s":"m","t":135,"f":50.0018},{"s":"m","t":140,"f":50.0036},{"s":"m","t":145,"f":49.9971},{"s":"m","t":150,"f":49.995},{"s":"m","t":155,"f":50.0023},{"s":"m","t":160,"f":50.0048},{"s":"m","t":165,"f":49.9986},{"s":"m","t":170,"f":49.9961},{"s":"m","t":175,"f":50.0032},{"s":"m","t":180,"f":49.9979},{"s":"m","t":185,"f":50.0053},{"s":"m","t":190,"f":49.9954},{"s":"m","t":195,"f":50.0008},{"s":"m","t":200,"f":50.0034},{"s":"m","t":205,"f":49.9962},{"s":"m","t":210,"f":50.0015},{"s":"m","t":215,"f":50.0042},{"s":"m","t":220,"f":49.9976},{"s":"m","t":225,"f":49.9951},{"s":"m","t":230,"f":50.0029},{"s":"m","t":235,"f":50.0004},{"s":"m","t":240,"f":49.9967},{"s":"m","t":245,"f":50.0047},{"s":"m","t":250,"f":49.9984},{"s":"m","t":255,"f":49.9958},{"s":"m","t":260,"f":50.003},{"s":"m","t":265,"f":50.0011},{"s":"m","t":270,"f":49.9964},{"s":"m","t":275,"f":50.0041},{"s":"m","t":280,"f":49.9973},{"s":"m","t":285,"f":49.9997},{"s":"m","t":290,"f":50.0037},{"s":"m","t":295,"f":49.9955},{"s":"m","t":300,"f":50.002},{"s":"m","t":305,"f":50.0044},{"s":"m","t":310,"f":49.9969},{"s":"m","t":315,"f":49.9948},{"s":"m","t":320,"f":50.0016},{"s":"m","t":325,"f":50.0038},{"s":"m","t":330,"f":49.9978},{"s":"m","t":335,"f":50.0049},{"s":"m","t":340,"f":49.9966},{"s":"m","t":345,"f":50.0009},{"s":"m","t":350,"f":50.0041},
{"s":"n","t":0,"f":50.0036},{"s":"n","t":5,"f":49.996},{"s":"n","t":10,"f":50.0022},{"s":"n","t":15,"f":49.9969},{"s":"n","t":20,"f":50.0041},
{"s":"n","t":22.5,"f":50.002},{"s":"n","t":23.5,"f":49.915},{"s":"n","t":25,"f":49.899},{"s":"n","t":27,"f":49.912},{"s":"n","t":29,"f":49.932},{"s":"n","t":31,"f":49.95},{"s":"n","t":33,"f":49.966},{"s":"n","t":35,"f":49.981},{"s":"n","t":37,"f":49.997},{"s":"n","t":39,"f":50.014},{"s":"n","t":41,"f":50.024},{"s":"n","t":43,"f":50.021},{"s":"n","t":45,"f":50.019},{"s":"n","t":47,"f":50.016},{"s":"n","t":50,"f":50.011},
{"s":"n","t":55,"f":50.0052},{"s":"n","t":60,"f":50.0016},{"s":"n","t":65,"f":50.0043},{"s":"n","t":70,"f":49.9974},{"s":"n","t":75,"f":49.9952},{"s":"n","t":80,"f":50.0019},{"s":"n","t":85,"f":50.005},{"s":"n","t":90,"f":49.9987},{"s":"n","t":95,"f":49.9961},{"s":"n","t":100,"f":50.0028},{"s":"n","t":105,"f":49.9955},{"s":"n","t":110,"f":50.0035},{"s":"n","t":115,"f":50.0006},{"s":"n","t":120,"f":49.997},{"s":"n","t":125,"f":50.0049},{"s":"n","t":130,"f":49.9978},{"s":"n","t":135,"f":49.9953},{"s":"n","t":140,"f":50.0021},{"s":"n","t":145,"f":50.0044},{"s":"n","t":150,"f":49.9967},{"s":"n","t":155,"f":50.0005},{"s":"n","t":160,"f":50.0039},{"s":"n","t":165,"f":49.9959},{"s":"n","t":170,"f":50.0017},{"s":"n","t":175,"f":50.0046},{"s":"n","t":180,"f":49.9972},{"s":"n","t":185,"f":49.9949},{"s":"n","t":190,"f":50.0024},{"s":"n","t":195,"f":50.004},{"s":"n","t":200,"f":49.9989},{"s":"n","t":205,"f":49.9957},{"s":"n","t":210,"f":50.0036},{"s":"n","t":215,"f":49.998},{"s":"n","t":220,"f":49.9952},{"s":"n","t":225,"f":50.0025},{"s":"n","t":230,"f":50.0047},{"s":"n","t":235,"f":49.9968},{"s":"n","t":240,"f":50.0003},{"s":"n","t":245,"f":49.9954},{"s":"n","t":250,"f":50.0038},{"s":"n","t":255,"f":50.0014},{"s":"n","t":260,"f":49.9963},{"s":"n","t":265,"f":50.0042},{"s":"n","t":270,"f":49.9982},{"s":"n","t":275,"f":49.996},{"s":"n","t":280,"f":50.0031},{"s":"n","t":285,"f":50.0048},{"s":"n","t":290,"f":49.9971},{"s":"n","t":295,"f":50.0007},{"s":"n","t":300,"f":49.9956},{"s":"n","t":305,"f":50.0026},{"s":"n","t":310,"f":50.0045},{"s":"n","t":315,"f":49.9985},{"s":"n","t":320,"f":49.9962},{"s":"n","t":325,"f":50.0033},{"s":"n","t":330,"f":49.9994},{"s":"n","t":335,"f":49.9958},{"s":"n","t":340,"f":50.0029},{"s":"n","t":345,"f":50.0046},{"s":"n","t":350,"f":49.9965},
{"s":"o","t":0,"f":49.9979},{"s":"o","t":5,"f":50.0043},{"s":"o","t":10,"f":49.9964},{"s":"o","t":15,"f":50.001},{"s":"o","t":20,"f":50.0033},
{"s":"o","t":22.5,"f":49.999},{"s":"o","t":23.5,"f":49.935},{"s":"o","t":25,"f":49.9},{"s":"o","t":27,"f":49.89},{"s":"o","t":29,"f":49.905},{"s":"o","t":31,"f":49.928},{"s":"o","t":33,"f":49.952},{"s":"o","t":35,"f":49.972},{"s":"o","t":37,"f":49.99},{"s":"o","t":39,"f":50.01},{"s":"o","t":41,"f":50.02},{"s":"o","t":43,"f":50.018},{"s":"o","t":45,"f":50.015},{"s":"o","t":47,"f":50.012},{"s":"o","t":50,"f":50.009},
{"s":"o","t":55,"f":50.0041},{"s":"o","t":60,"f":49.9982},{"s":"o","t":65,"f":49.9954},{"s":"o","t":70,"f":50.003},{"s":"o","t":75,"f":50.0049},{"s":"o","t":80,"f":49.9975},{"s":"o","t":85,"f":49.9959},{"s":"o","t":90,"f":50.0026},{"s":"o","t":95,"f":50.0042},{"s":"o","t":100,"f":49.9965},{"s":"o","t":105,"f":50.0004},{"s":"o","t":110,"f":49.9952},{"s":"o","t":115,"f":50.0033},{"s":"o","t":120,"f":50.001},{"s":"o","t":125,"f":49.9961},{"s":"o","t":130,"f":50.0046},{"s":"o","t":135,"f":49.9986},{"s":"o","t":140,"f":49.9958},{"s":"o","t":145,"f":50.0037},{"s":"o","t":150,"f":50.002},{"s":"o","t":155,"f":49.9952},{"s":"o","t":160,"f":49.9988},{"s":"o","t":165,"f":50.004},{"s":"o","t":170,"f":49.9969},{"s":"o","t":175,"f":50.0009},{"s":"o","t":180,"f":50.0048},{"s":"o","t":185,"f":49.9974},{"s":"o","t":190,"f":49.9957},{"s":"o","t":195,"f":50.0035},{"s":"o","t":200,"f":50.0012},{"s":"o","t":205,"f":50.0046},{"s":"o","t":210,"f":49.9964},{"s":"o","t":215,"f":49.999},{"s":"o","t":220,"f":50.0044},{"s":"o","t":225,"f":49.996},{"s":"o","t":230,"f":50.0022},{"s":"o","t":235,"f":50.0049},{"s":"o","t":240,"f":49.9972},{"s":"o","t":245,"f":49.9995},{"s":"o","t":250,"f":49.9955},{"s":"o","t":255,"f":50.0039},{"s":"o","t":260,"f":50.0016},{"s":"o","t":265,"f":49.9967},{"s":"o","t":270,"f":50.0043},{"s":"o","t":275,"f":49.9976},{"s":"o","t":280,"f":49.9953},{"s":"o","t":285,"f":50.0027},{"s":"o","t":290,"f":50.0041},{"s":"o","t":295,"f":49.997},{"s":"o","t":300,"f":50.0036},{"s":"o","t":305,"f":49.9959},{"s":"o","t":310,"f":49.9992},{"s":"o","t":315,"f":50.0039},{"s":"o","t":320,"f":49.9954},{"s":"o","t":325,"f":50.0018},{"s":"o","t":330,"f":50.0043},{"s":"o","t":335,"f":49.9973},{"s":"o","t":340,"f":49.9956},{"s":"o","t":345,"f":50.0025},{"s":"o","t":350,"f":49.9981},
{"s":"p","t":0,"f":50.0048},{"s":"p","t":5,"f":49.9971},{"s":"p","t":10,"f":50.0037},{"s":"p","t":15,"f":49.9955},{"s":"p","t":20,"f":50.0012},
{"s":"p","t":22.5,"f":50.001},{"s":"p","t":23.5,"f":49.92},{"s":"p","t":25,"f":49.9},{"s":"p","t":27,"f":49.895},{"s":"p","t":29,"f":49.915},{"s":"p","t":31,"f":49.94},{"s":"p","t":33,"f":49.96},{"s":"p","t":35,"f":49.978},{"s":"p","t":37,"f":49.994},{"s":"p","t":39,"f":50.009},{"s":"p","t":41,"f":50.015},{"s":"p","t":43,"f":50.017},{"s":"p","t":45,"f":50.013},{"s":"p","t":47,"f":50.011},{"s":"p","t":50,"f":50.008},
{"s":"p","t":55,"f":50.0045},{"s":"p","t":60,"f":50.0053},{"s":"p","t":65,"f":49.998},{"s":"p","t":70,"f":49.9953},{"s":"p","t":75,"f":50.0034},{"s":"p","t":80,"f":49.9985},{"s":"p","t":85,"f":49.9951},{"s":"p","t":90,"f":50.0021},{"s":"p","t":95,"f":50.005},{"s":"p","t":100,"f":49.9968},{"s":"p","t":105,"f":49.9993},{"s":"p","t":110,"f":50.0043},{"s":"p","t":115,"f":49.9956},{"s":"p","t":120,"f":50.0027},{"s":"p","t":125,"f":49.9981},{"s":"p","t":130,"f":50.0038},{"s":"p","t":135,"f":49.9954},{"s":"p","t":140,"f":50.0006},{"s":"p","t":145,"f":49.9965},{"s":"p","t":150,"f":50.0047},{"s":"p","t":155,"f":50.0024},{"s":"p","t":160,"f":49.996},{"s":"p","t":165,"f":49.9978},{"s":"p","t":170,"f":50.0036},{"s":"p","t":175,"f":49.9951},{"s":"p","t":180,"f":50.0013},{"s":"p","t":185,"f":50.0041},{"s":"p","t":190,"f":49.997},{"s":"p","t":195,"f":49.9955},{"s":"p","t":200,"f":50.0029},{"s":"p","t":205,"f":50.0008},{"s":"p","t":210,"f":49.9959},{"s":"p","t":215,"f":50.0044},{"s":"p","t":220,"f":50.0016},{"s":"p","t":225,"f":49.9964},{"s":"p","t":230,"f":49.9988},{"s":"p","t":235,"f":50.0045},{"s":"p","t":240,"f":49.9957},{"s":"p","t":245,"f":50.0028},{"s":"p","t":250,"f":50.0001},{"s":"p","t":255,"f":49.9956},{"s":"p","t":260,"f":50.004},{"s":"p","t":265,"f":49.9975},{"s":"p","t":270,"f":50.0032},{"s":"p","t":275,"f":49.9952},{"s":"p","t":280,"f":50.0019},{"s":"p","t":285,"f":50.0035},{"s":"p","t":290,"f":49.996},{"s":"p","t":295,"f":49.9984},{"s":"p","t":300,"f":50.0042},{"s":"p","t":305,"f":49.9966},{"s":"p","t":310,"f":50.0023},{"s":"p","t":315,"f":50.0048},{"s":"p","t":320,"f":49.998},{"s":"p","t":325,"f":49.9953},{"s":"p","t":330,"f":50.003},{"s":"p","t":335,"f":50.0005},{"s":"p","t":340,"f":49.9961},{"s":"p","t":345,"f":50.0043},{"s":"p","t":350,"f":49.9977},
{"s":"q","t":0,"f":49.9966},{"s":"q","t":5,"f":50.002},{"s":"q","t":10,"f":50.0042},{"s":"q","t":15,"f":49.9977},{"s":"q","t":20,"f":50.0038},
{"s":"q","t":22.5,"f":50.0},{"s":"q","t":23.5,"f":49.895},{"s":"q","t":25,"f":49.89},{"s":"q","t":27,"f":49.91},{"s":"q","t":29,"f":49.935},{"s":"q","t":31,"f":49.955},{"s":"q","t":33,"f":49.97},{"s":"q","t":35,"f":49.985},{"s":"q","t":37,"f":50.003},{"s":"q","t":39,"f":50.022},{"s":"q","t":41,"f":50.025},{"s":"q","t":43,"f":50.019},{"s":"q","t":45,"f":50.016},{"s":"q","t":47,"f":50.012},{"s":"q","t":50,"f":50.009},
{"s":"q","t":55,"f":50.0036},{"s":"q","t":60,"f":49.9971},{"s":"q","t":65,"f":50.0044},{"s":"q","t":70,"f":49.9988},{"s":"q","t":75,"f":49.9955},{"s":"q","t":80,"f":50.0037},{"s":"q","t":85,"f":50.0009},{"s":"q","t":90,"f":50.0048},{"s":"q","t":95,"f":49.9969},{"s":"q","t":100,"f":49.9953},{"s":"q","t":105,"f":50.0024},{"s":"q","t":110,"f":49.998},{"s":"q","t":115,"f":50.0045},{"s":"q","t":120,"f":49.9962},{"s":"q","t":125,"f":50.0015},{"s":"q","t":130,"f":50.004},{"s":"q","t":135,"f":49.9975},{"s":"q","t":140,"f":49.9951},{"s":"q","t":145,"f":50.0007},{"s":"q","t":150,"f":50.0043},{"s":"q","t":155,"f":49.9964},{"s":"q","t":160,"f":50.0011},{"s":"q","t":165,"f":50.0047},{"s":"q","t":170,"f":49.9976},{"s":"q","t":175,"f":49.9956},{"s":"q","t":180,"f":50.0033},{"s":"q","t":185,"f":49.999},{"s":"q","t":190,"f":50.0045},{"s":"q","t":195,"f":49.9962},{"s":"q","t":200,"f":50.0023},{"s":"q","t":205,"f":49.9954},{"s":"q","t":210,"f":50.004},{"s":"q","t":215,"f":50.0002},{"s":"q","t":220,"f":49.9965},{"s":"q","t":225,"f":50.0041},{"s":"q","t":230,"f":49.9956},{"s":"q","t":235,"f":50.0017},{"s":"q","t":240,"f":50.0039},{"s":"q","t":245,"f":49.9969},{"s":"q","t":250,"f":49.9951},{"s":"q","t":255,"f":50.0021},{"s":"q","t":260,"f":50.0046},{"s":"q","t":265,"f":49.9986},{"s":"q","t":270,"f":49.9961},{"s":"q","t":275,"f":50.003},{"s":"q","t":280,"f":50.0044},{"s":"q","t":285,"f":49.9957},{"s":"q","t":290,"f":50.001},{"s":"q","t":295,"f":50.004},{"s":"q","t":300,"f":49.9974},{"s":"q","t":305,"f":49.9955},{"s":"q","t":310,"f":50.0034},{"s":"q","t":315,"f":50.0006},{"s":"q","t":320,"f":50.0042},{"s":"q","t":325,"f":49.9961},{"s":"q","t":330,"f":49.9983},{"s":"q","t":335,"f":50.0028},{"s":"q","t":340,"f":50.0047},{"s":"q","t":345,"f":49.9968},{"s":"q","t":350,"f":50.0014},
{"s":"r","t":0,"f":50.0027},{"s":"r","t":5,"f":49.9965},{"s":"r","t":10,"f":50.0046},{"s":"r","t":15,"f":49.9989},{"s":"r","t":20,"f":49.9961},
{"s":"r","t":22.5,"f":50.001},{"s":"r","t":23.5,"f":49.94},{"s":"r","t":25,"f":49.922},{"s":"r","t":27,"f":49.918},{"s":"r","t":29,"f":49.935},{"s":"r","t":31,"f":49.95},{"s":"r","t":33,"f":49.963},{"s":"r","t":35,"f":49.977},{"s":"r","t":37,"f":49.992},{"s":"r","t":39,"f":50.006},{"s":"r","t":41,"f":50.014},{"s":"r","t":43,"f":50.016},{"s":"r","t":45,"f":50.011},{"s":"r","t":47,"f":50.008},{"s":"r","t":50,"f":50.005},
{"s":"r","t":55,"f":49.9985},{"s":"r","t":60,"f":49.9951},{"s":"r","t":65,"f":50.0029},{"s":"r","t":70,"f":50.0045},{"s":"r","t":75,"f":49.9964},{"s":"r","t":80,"f":49.999},{"s":"r","t":85,"f":50.0042},{"s":"r","t":90,"f":49.9954},{"s":"r","t":95,"f":50.0014},{"s":"r","t":100,"f":50.0041},{"s":"r","t":105,"f":49.9966},{"s":"r","t":110,"f":50.002},{"s":"r","t":115,"f":50.0048},{"s":"r","t":120,"f":49.9973},{"s":"r","t":125,"f":49.9956},{"s":"r","t":130,"f":50.0031},{"s":"r","t":135,"f":50.0005},{"s":"r","t":140,"f":49.9961},{"s":"r","t":145,"f":50.0044},{"s":"r","t":150,"f":49.9982},{"s":"r","t":155,"f":50.0036},{"s":"r","t":160,"f":49.9955},{"s":"r","t":165,"f":50.0008},{"s":"r","t":170,"f":50.004},{"s":"r","t":175,"f":49.9968},{"s":"r","t":180,"f":49.9952},{"s":"r","t":185,"f":50.0026},{"s":"r","t":190,"f":50.0042},{"s":"r","t":195,"f":49.9979},{"s":"r","t":200,"f":49.996},{"s":"r","t":205,"f":50.0038},{"s":"r","t":210,"f":50.0004},{"s":"r","t":215,"f":49.9957},{"s":"r","t":220,"f":50.0035},{"s":"r","t":225,"f":50.0046},{"s":"r","t":230,"f":49.9971},{"s":"r","t":235,"f":49.9959},{"s":"r","t":240,"f":50.0025},{"s":"r","t":245,"f":50.0044},{"s":"r","t":250,"f":49.9963},{"s":"r","t":255,"f":50.0007},{"s":"r","t":260,"f":50.0041},{"s":"r","t":265,"f":49.9956},{"s":"r","t":270,"f":49.9987},{"s":"r","t":275,"f":50.0039},{"s":"r","t":280,"f":49.997},{"s":"r","t":285,"f":50.0046},{"s":"r","t":290,"f":49.9978},{"s":"r","t":295,"f":49.9954},{"s":"r","t":300,"f":50.0028},{"s":"r","t":305,"f":50.004},{"s":"r","t":310,"f":49.9962},{"s":"r","t":315,"f":50.0012},{"s":"r","t":320,"f":49.9958},{"s":"r","t":325,"f":50.0037},{"s":"r","t":330,"f":50.0045},{"s":"r","t":335,"f":49.9969},{"s":"r","t":340,"f":50.0002},{"s":"r","t":345,"f":49.996},{"s":"r","t":350,"f":50.0032},
{"s":"k","t":0,"f":50.0003},{"s":"k","t":5,"f":49.9996},{"s":"k","t":10,"f":50.0006},{"s":"k","t":15,"f":50.0001},{"s":"k","t":20,"f":50.0002},
{"s":"k","t":22.5,"f":50.0},{"s":"k","t":23.5,"f":49.935},{"s":"k","t":25,"f":49.916},{"s":"k","t":27,"f":49.925},{"s":"k","t":29,"f":49.943},{"s":"k","t":31,"f":49.958},{"s":"k","t":33,"f":49.972},{"s":"k","t":35,"f":49.985},{"s":"k","t":37,"f":49.998},{"s":"k","t":39,"f":50.009},{"s":"k","t":41,"f":50.014},{"s":"k","t":43,"f":50.013},{"s":"k","t":45,"f":50.011},{"s":"k","t":47,"f":50.009},{"s":"k","t":50,"f":50.006},
{"s":"k","t":55,"f":50.0035},{"s":"k","t":60,"f":50.002},{"s":"k","t":65,"f":50.0009},{"s":"k","t":70,"f":50.0003},{"s":"k","t":75,"f":50.0005},{"s":"k","t":80,"f":50.0008},{"s":"k","t":85,"f":50.0004},{"s":"k","t":90,"f":49.9998},{"s":"k","t":95,"f":50.0003},{"s":"k","t":100,"f":50.0009},{"s":"k","t":105,"f":50.0011},{"s":"k","t":110,"f":50.0006},{"s":"k","t":115,"f":50.0002},{"s":"k","t":120,"f":50.0005},{"s":"k","t":125,"f":50.0},{"s":"k","t":130,"f":49.9996},{"s":"k","t":135,"f":50.0002},{"s":"k","t":140,"f":50.0007},{"s":"k","t":145,"f":50.0009},{"s":"k","t":150,"f":50.0004},{"s":"k","t":155,"f":50.0001},{"s":"k","t":160,"f":50.0006},{"s":"k","t":165,"f":50.001},{"s":"k","t":170,"f":50.0005},{"s":"k","t":175,"f":50.0002},{"s":"k","t":180,"f":49.9997},{"s":"k","t":185,"f":50.0001},{"s":"k","t":190,"f":50.0006},{"s":"k","t":195,"f":50.0003},{"s":"k","t":200,"f":49.9998},{"s":"k","t":205,"f":50.0004},{"s":"k","t":210,"f":50.0008},{"s":"k","t":215,"f":50.0005},{"s":"k","t":220,"f":50.0001},{"s":"k","t":225,"f":49.9997},{"s":"k","t":230,"f":50.0002},{"s":"k","t":235,"f":50.0007},{"s":"k","t":240,"f":50.0004},{"s":"k","t":245,"f":50.0},{"s":"k","t":250,"f":50.0003},{"s":"k","t":255,"f":50.0008},{"s":"k","t":260,"f":50.0006},{"s":"k","t":265,"f":50.0002},{"s":"k","t":270,"f":49.9999},{"s":"k","t":275,"f":50.0004},{"s":"k","t":280,"f":50.0009},{"s":"k","t":285,"f":50.0005},{"s":"k","t":290,"f":50.0001},{"s":"k","t":295,"f":50.0003},{"s":"k","t":300,"f":50.0007},{"s":"k","t":305,"f":50.0002},{"s":"k","t":310,"f":49.9998},{"s":"k","t":315,"f":50.0003},{"s":"k","t":320,"f":50.0006},{"s":"k","t":325,"f":50.0001},{"s":"k","t":330,"f":50.0004},{"s":"k","t":335,"f":50.0008},{"s":"k","t":340,"f":50.0003},{"s":"k","t":345,"f":50.0005},{"s":"k","t":350,"f":50.0009},
{"s":"l","t":0,"f":50.0005},{"s":"l","t":5,"f":50.0035},{"s":"l","t":10,"f":49.9942},{"s":"l","t":15,"f":50.0012},{"s":"l","t":20,"f":49.9997},
{"s":"l","t":22.5,"f":50.0},{"s":"l","t":23.5,"f":49.93},{"s":"l","t":25,"f":49.913},{"s":"l","t":27,"f":49.92},{"s":"l","t":29,"f":49.94},{"s":"l","t":31,"f":49.955},{"s":"l","t":33,"f":49.968},{"s":"l","t":35,"f":49.98},{"s":"l","t":37,"f":49.995},{"s":"l","t":39,"f":50.007},{"s":"l","t":41,"f":50.012},{"s":"l","t":43,"f":50.013},{"s":"l","t":45,"f":50.012},{"s":"l","t":47,"f":50.01},{"s":"l","t":50,"f":50.007},
{"s":"l","t":55,"f":50.0048},{"s":"l","t":60,"f":50.0016},{"s":"l","t":65,"f":49.9992},{"s":"l","t":70,"f":49.9981},{"s":"l","t":75,"f":49.9988},{"s":"l","t":80,"f":50.0002},{"s":"l","t":85,"f":49.9994},{"s":"l","t":90,"f":49.9986},{"s":"l","t":95,"f":49.9993},{"s":"l","t":100,"f":50.0004},{"s":"l","t":105,"f":49.9997},{"s":"l","t":110,"f":49.9989},{"s":"l","t":115,"f":49.9995},{"s":"l","t":120,"f":50.0006},{"s":"l","t":125,"f":50.0001},{"s":"l","t":130,"f":49.9991},{"s":"l","t":135,"f":49.9987},{"s":"l","t":140,"f":49.9996},{"s":"l","t":145,"f":50.0003},{"s":"l","t":150,"f":49.9994},{"s":"l","t":155,"f":49.999},{"s":"l","t":160,"f":49.9998},{"s":"l","t":165,"f":50.0005},{"s":"l","t":170,"f":49.9997},{"s":"l","t":175,"f":49.9988},{"s":"l","t":180,"f":49.9992},{"s":"l","t":185,"f":50.0},{"s":"l","t":190,"f":49.9995},{"s":"l","t":195,"f":49.9989},{"s":"l","t":200,"f":49.9996},{"s":"l","t":205,"f":50.0003},{"s":"l","t":210,"f":49.9993},{"s":"l","t":215,"f":49.9987},{"s":"l","t":220,"f":49.9994},{"s":"l","t":225,"f":50.0002},{"s":"l","t":230,"f":49.9998},{"s":"l","t":235,"f":49.9991},{"s":"l","t":240,"f":49.9995},{"s":"l","t":245,"f":50.0004},{"s":"l","t":250,"f":49.9999},{"s":"l","t":255,"f":49.9992},{"s":"l","t":260,"f":49.999},{"s":"l","t":265,"f":49.9997},{"s":"l","t":270,"f":50.0003},{"s":"l","t":275,"f":49.9995},{"s":"l","t":280,"f":49.9988},{"s":"l","t":285,"f":49.9994},{"s":"l","t":290,"f":50.0001},{"s":"l","t":295,"f":49.9996},{"s":"l","t":300,"f":49.9991},{"s":"l","t":305,"f":49.9998},{"s":"l","t":310,"f":50.0005},{"s":"l","t":315,"f":49.9997},{"s":"l","t":320,"f":49.999},{"s":"l","t":325,"f":49.9993},{"s":"l","t":330,"f":50.0},{"s":"l","t":335,"f":49.9995},{"s":"l","t":340,"f":49.9989},{"s":"l","t":345,"f":49.9998},{"s":"l","t":350,"f":50.0003}
]},
"layer": [
  {
    "mark": {"type": "line", "strokeWidth": 2.5, "strokeJoin": "round", "strokeCap": "round"},
    "encoding": {
      "x": {"field": "t", "type": "quantitative",
        "scale": {"domain": [0, 350], "nice": false, "zero": false},
        "axis": {"orient": "bottom", "title": "Time [s]", "values": [0, 50, 100, 150, 200, 250, 300, 350],
          "labelPadding": 16, "titleFontSize": 31, "titleX": 298, "titleY": 73,
          "titleBaseline": "alphabetic", "titleAlign": "center", "titleAnchor": null}},
      "y": {"field": "f", "type": "quantitative",
        "scale": {"domain": [49.88, 50.04], "nice": false, "zero": false},
        "axis": {"orient": "left", "title": "Bus Frequencies [Hz]", "format": "~g",
          "values": [49.88, 49.9, 49.92, 49.94, 49.96, 49.98, 50, 50.02, 50.04],
          "labelPadding": 12, "titleFontSize": 29.5, "titleX": -100, "titleY": 269, "titleAngle": 270,
          "titleBaseline": "alphabetic", "titleAlign": "center", "titleAnchor": null}},
      "color": {"field": "s", "type": "nominal", "legend": null,
        "scale": {"domain": ["a","b","c","d","e","f","g","h","i","j","m","n","o","p","q","r","k","l"],
          "range": ["#0000ff","#008000","#ff0000","#00bfbf","#bf00bf","#bfbf00","#404040","#0000ff","#008000","#ff0000","#0000ff","#008000","#ff0000","#bfbf00","#404040","#00bfbf","#bf00bf","#00bfbf"]}}
    }
  },
  {
    "mark": {"type": "line", "strokeOpacity": 0},
    "encoding": {
      "x": {"field": "t", "type": "quantitative",
        "axis": {"orient": "top", "labels": false, "title": null, "values": [0, 50, 100, 150, 200, 250, 300, 350]}},
      "y": {"field": "f", "type": "quantitative",
        "axis": {"orient": "right", "labels": false, "title": null, "values": [49.88, 49.9, 49.92, 49.94, 49.96, 49.98, 50, 50.02, 50.04]}},
      "detail": {"field": "s", "type": "nominal"}
    }
  }
],
"resolve": {"axis": {"x": "independent", "y": "independent"}}
}
